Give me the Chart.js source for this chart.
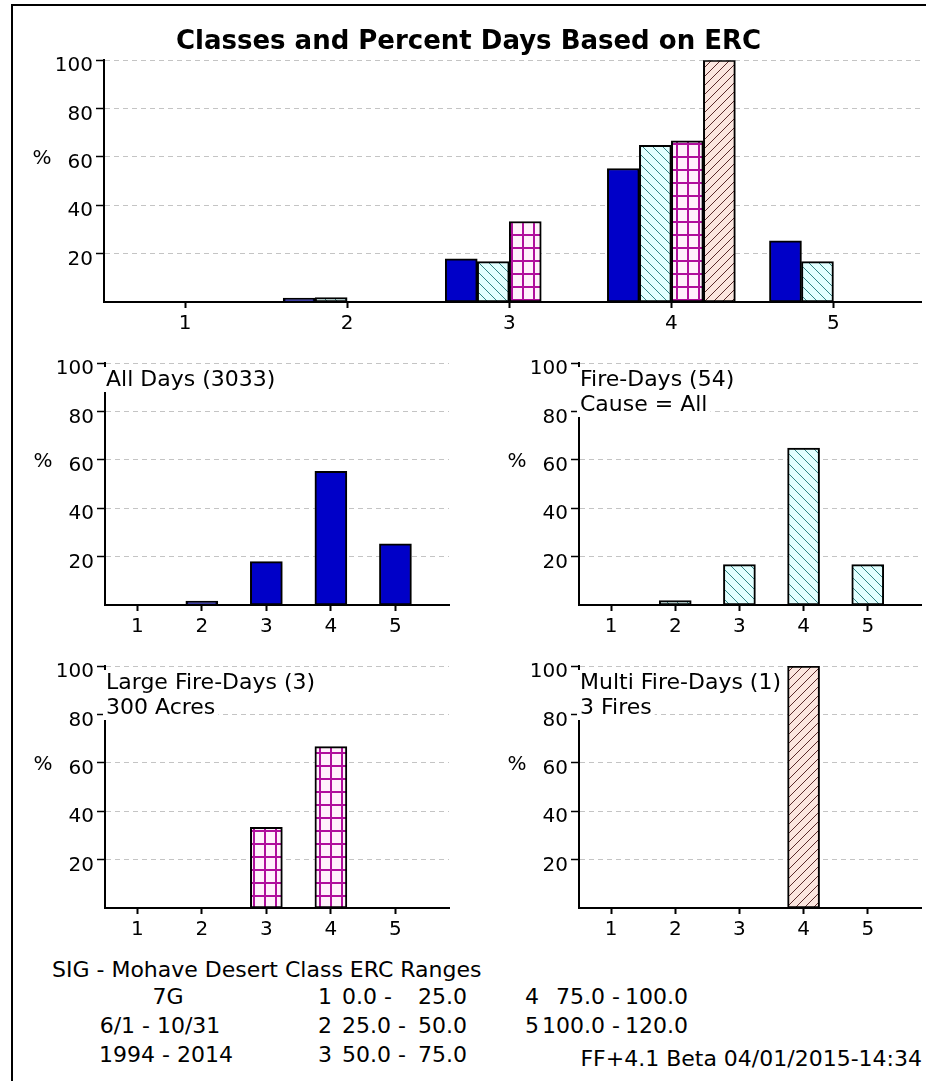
<!DOCTYPE html>
<html>
<head>
<meta charset="utf-8">
<script src="https://cdn.jsdelivr.net/npm/chart.js@4.4.1/dist/chart.umd.min.js"></script>
<style>
    body { margin: 0; background: #fff; width: 926px; height: 1081px; position: relative; overflow: hidden;
           font-family: "DejaVu Sans", sans-serif; color: #000; }
    .frame { position: absolute; left: 11px; top: 4px; width: 915px; height: 1090px;
             border-left: 2px solid #000; border-top: 2px solid #000; }
    canvas { position: absolute; }
    .t { position: absolute; font-size: 22px; line-height: 22px; white-space: pre; }
</style>
</head>
<body>
<div class="frame"></div>
<canvas id="chartAll" width="910" height="345" style="left:16px;top:0px"></canvas>
<canvas id="chartDays" width="455" height="305" style="left:0px;top:345px"></canvas>
<canvas id="chartFire" width="456" height="305" style="left:470px;top:345px"></canvas>
<canvas id="chartLarge" width="455" height="305" style="left:0px;top:648px"></canvas>
<canvas id="chartMulti" width="456" height="305" style="left:470px;top:648px"></canvas>
<div id="footer"></div>

<script>
// ERC classes and percent of days in each class
const classes = [1, 2, 3, 4, 5];
const allDays = [0, 1.6, 17.9, 55.2, 25.3];
const fireDays = [0, 1.85, 16.7, 64.8, 16.7];
const largeFireDays = [0, 0, 33.3, 66.7, 0];
const multiFireDays = [0, 0, 0, 100, 0];
const yTicks = [20, 40, 60, 80, 100];

// class ERC ranges for the footer table
const ercLow = [0, 25, 50, 75, 100];
const ercHigh = [25, 50, 75, 100, 120];

Chart.defaults.font.family = '"DejaVu Sans", sans-serif';
Chart.defaults.color = '#000';

/**
 * Builds a small repeating fill pattern for the hatched bars.
 */
function makePattern(w, h, bg, fg, kind) {
    const c = document.createElement('canvas');
    c.width = w;
    c.height = h;
    const g = c.getContext('2d');
    g.fillStyle = bg;
    g.fillRect(0, 0, w, h);
    g.strokeStyle = fg;
    g.fillStyle = fg;
    g.lineWidth = 1;
    if (kind === 'back') {
        g.beginPath();
        g.moveTo(-1, -1); g.lineTo(w + 1, h + 1);
        g.moveTo(-1, h - 1); g.lineTo(1, h + 1);
        g.moveTo(w - 1, -1); g.lineTo(w + 1, 1);
        g.stroke();
    } else if (kind === 'fwd') {
        g.beginPath();
        g.moveTo(-1, h + 1); g.lineTo(w + 1, -1);
        g.moveTo(-1, 1); g.lineTo(1, -1);
        g.moveTo(w - 1, h + 1); g.lineTo(w + 1, h - 1);
        g.stroke();
    } else {
        g.fillRect(0, 0, w, 2);
        g.fillRect(0, 0, 2, h);
    }
    return document.createElement('canvas').getContext('2d').createPattern(c, 'repeat');
}

const blueFill = '#0000c8';
const cyanFill = makePattern(10, 10, '#e2ffff', '#2f8585', 'back');
const gridFill = makePattern(11, 13, '#fff2fb', '#b0109c', 'grid');
const brownFill = makePattern(9, 9, '#fbe6df', '#5a2a2a', 'fwd');

function points(values) {
    return classes.map((c, i) => ({ x: c, y: values[i] }));
}

function series(values, fill) {
    return { data: points(values), backgroundColor: fill };
}

/**
 * Draws the "%" axis mark and the boxed notes at the top of each panel.
 */
const notePlugin = {
    id: 'notes',
    beforeDatasetsDraw(chart, args, opts) {
        const { ctx, chartArea } = chart;
        const y = chart.scales.y;
        ctx.save();
        ctx.font = '20px "DejaVu Sans"';
        ctx.fillStyle = '#000';
        ctx.textAlign = 'center';
        ctx.textBaseline = 'middle';
        ctx.fillText('%', chartArea.left - 62, y.getPixelForValue(60) + 2);

        ctx.font = '22px "DejaVu Sans"';
        ctx.textAlign = 'left';
        ctx.textBaseline = 'alphabetic';
        (opts.lines || []).forEach((txt, i) => {
            const base = y.getPixelForValue(100) + 23 + i * 25;
            const w = ctx.measureText(txt).width;
            ctx.fillStyle = '#fff';
            ctx.fillRect(chartArea.left - 2, base - 19, w + 6, 25);
            ctx.fillStyle = '#000';
            ctx.fillText(txt, chartArea.left + 1, base);
        });
        ctx.restore();
    }
};

function makeChart(id, datasets, o) {
    return new Chart(document.getElementById(id), {
        type: 'bar',
        data: { datasets: datasets },
        options: {
            responsive: false,
            animation: false,
            devicePixelRatio: 1,
            layout: { padding: { top: o.padTop, right: o.padRight, left: 0, bottom: 0 } },
            datasets: {
                bar: { barThickness: 32, borderColor: '#000', borderWidth: 2, borderSkipped: false }
            },
            plugins: {
                legend: { display: false },
                tooltip: { enabled: false },
                title: o.title ? {
                    display: true,
                    text: o.title,
                    color: '#000',
                    font: { size: 26, weight: 'bold' },
                    padding: { top: 27, bottom: 2 }
                } : { display: false },
                notes: { lines: o.lines }
            },
            scales: {
                x: {
                    type: 'linear',
                    offset: false,
                    min: 0.5,
                    max: o.xMax,
                    afterBuildTicks: s => { s.ticks = classes.map(v => ({ value: v })); },
                    afterFit: s => { s.height = o.xHeight; },
                    grid: { offset: false, drawOnChartArea: false, tickLength: 6, tickColor: '#000', tickWidth: 2 },
                    border: { color: '#000', width: 2 },
                    ticks: { color: '#000', font: { size: 20 }, padding: 4, autoSkip: false, maxRotation: 0 }
                },
                y: {
                    min: 0,
                    max: 100,
                    afterBuildTicks: s => { s.ticks = yTicks.map(v => ({ value: v })); },
                    afterFit: s => { s.width = o.yWidth; },
                    grid: { color: '#c4c4c4', lineWidth: 1, tickColor: '#000', tickLength: 8, tickWidth: 1.5 },
                    border: { color: '#000', width: 2, dash: [5, 4] },
                    ticks: { color: '#000', font: { size: 20 }, padding: 3, labelOffset: 6 }
                }
            }
        },
        plugins: [notePlugin]
    });
}

makeChart('chartAll', [
    series(allDays, blueFill),
    series(fireDays, cyanFill),
    series(largeFireDays, gridFill),
    series(multiFireDays, brownFill)
], { title: 'Classes and Percent Days Based on ERC', padTop: 0, padRight: 5, yWidth: 88, xHeight: 43, xMax: 5.54 });

makeChart('chartDays', [series(allDays, blueFill)],
    { lines: ['All Days (3033)'], padTop: 18, padRight: 6, yWidth: 105, xHeight: 45, xMax: 5.83 });
makeChart('chartFire', [series(fireDays, cyanFill)],
    { lines: ['Fire-Days (54)', 'Cause = All'], padTop: 18, padRight: 5, yWidth: 109, xHeight: 45, xMax: 5.83 });
makeChart('chartLarge', [series(largeFireDays, gridFill)],
    { lines: ['Large Fire-Days (3)', '300 Acres'], padTop: 18, padRight: 6, yWidth: 105, xHeight: 45, xMax: 5.83 });
makeChart('chartMulti', [series(multiFireDays, brownFill)],
    { lines: ['Multi Fire-Days (1)', '3 Fires'], padTop: 18, padRight: 5, yWidth: 109, xHeight: 45, xMax: 5.83 });

// footer: station info and class ERC ranges
const footer = document.getElementById('footer');
function addText(txt, x, baseline, align) {
    const d = document.createElement('div');
    d.className = 't';
    d.textContent = txt;
    d.style.top = (baseline - 19) + 'px';
    if (align === 'right') {
        d.style.right = (926 - x) + 'px';
    } else if (align === 'center') {
        d.style.left = x + 'px';
        d.style.transform = 'translateX(-50%)';
    } else {
        d.style.left = x + 'px';
    }
    footer.appendChild(d);
}

addText('SIG - Mohave Desert Class ERC Ranges', 52, 978);
addText('7G', 168, 1005, 'center');
addText('6/1 - 10/31', 160, 1034, 'center');
addText('1994 - 2014', 166, 1063, 'center');

const rowBase = [1005, 1034, 1063];
for (let i = 0; i < 3; i++) {
    addText(String(classes[i]), 332, rowBase[i], 'right');
    addText(ercLow[i].toFixed(1) + ' -', 342, rowBase[i]);
    addText(ercHigh[i].toFixed(1), 467, rowBase[i], 'right');
}
for (let i = 3; i < 5; i++) {
    addText(String(classes[i]), 525, rowBase[i - 3]);
    addText(ercLow[i].toFixed(1), 605, rowBase[i - 3], 'right');
    addText('-', 612, rowBase[i - 3]);
    addText(ercHigh[i].toFixed(1), 688, rowBase[i - 3], 'right');
}
addText('FF+4.1 Beta 04/01/2015-14:34', 922, 1067, 'right');
</script>
</body>
</html>
